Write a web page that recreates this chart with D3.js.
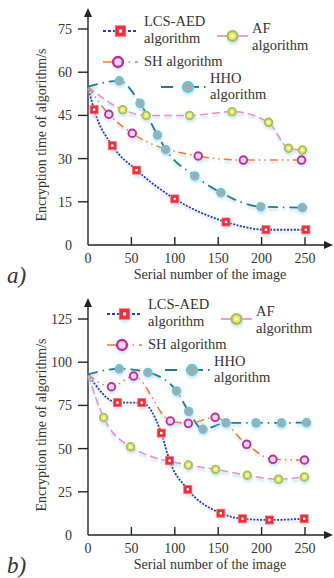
<!DOCTYPE html>
<html><head><meta charset="utf-8">
<script src="https://cdn.jsdelivr.net/npm/d3@7"></script>
<style>body{margin:0;background:#fff}svg{display:block}</style>
</head><body><svg id="c" width="334" height="578" font-family="'Liberation Serif', 'Times New Roman', 'DejaVu Serif', serif"></svg>
<script>
// ---------- data ----------
const xTicks = [0, 50, 100, 150, 200, 250];
const yTicksA = [0, 15, 30, 45, 60, 75];
const yTicksB = [0, 25, 50, 75, 100, 125];
const seriesNames = ["LCS-AED algorithm", "AF algorithm", "SH algorithm", "HHO algorithm"];

// panel a) common start value at x=0
const startA = 55;
const lcsA = [[7,47],[28,34.5],[56,26],[100,16],[159,8],[205,5.3],[251,5.3]];
const afA  = [[40,47],[67,45],[117,45],[166,46.3],[208,42.6],[231,33.6],[247,33]];
const shA  = [[24,45.4],[51,38.8],[127,30.9],[179,29.5],[246,29.5]];
const hhoA = [[36,57],[60,49.2],[80,38.2],[89.5,33.2],[123,24],[153,18.2],[199,13.3],[247,13]];

// panel b)
const startB = 93;
const lcsB = [[34,76.6],[62,76.6],[84.4,59],[94,43],[115,26.4],[153,12.6],[178,9.4],[209,8.7],[249,9.4]];
const afB  = [[18,68],[49,51.1],[115.6,40.5],[147,38],[183.4,34.6],[219.5,32.3],[249.4,33.6]];
const shB  = [[27,85.8],[52.6,92],[94.8,66],[115.6,64.6],[146.5,68.1],[182.8,52.5],[213,43.8],[249.4,43.4]];
const hhoB = [[36,96.2],[69,94.1],[102,83.4],[116,71.5],[132.5,61.2],[159,64.9],[193.5,64.9],[223,64.9],[251.7,65.1]];

// ---------- styles ----------
const styles = [
  {stroke:"#2a3aa6", width:1.8, dash:"2,1.4", legDash:"3,2", marker:"square"},
  {stroke:"#e88cc4", width:1.5, dash:"8,4", legDash:null, marker:"af"},
  {stroke:"#f07a2c", width:1.5, dash:"8,4,1.5,4,1.5,4", legDash:"13,6,1.5,5,1.5,5", marker:"sh"},
  {stroke:"#1f7a8a", width:1.8, dash:"10,5,1.5,5", legDash:"12,16,10,5,1.5,5", marker:"hho"}
];

const svg = d3.select("#c");
const defs = svg.append("defs");
defs.append("filter").attr("id","blur").attr("x","-20%").attr("y","-20%").attr("width","140%").attr("height","140%")
  .append("feGaussianBlur").attr("stdDeviation",1);

function drawMarker(g, type, x, y, big) {
  const s = big ? 1.3 : 1;
  g.append("circle").attr("cx",x+0.5).attr("cy",y+2.5).attr("r",5*s).attr("fill","#bcdaf0").attr("opacity",0.6).attr("filter","url(#blur)");
  if (type === "square") {
    const h = 4*s;
    g.append("rect").attr("x",x-h).attr("y",y-h).attr("width",2*h).attr("height",2*h).attr("fill","#ea2f38").attr("stroke","#f26670").attr("stroke-width",0.8);
    g.append("rect").attr("x",x-1.2*s).attr("y",y-1.2*s).attr("width",2.4*s).attr("height",2.4*s).attr("fill","#fff");
  } else if (type === "af") {
    g.append("circle").attr("cx",x).attr("cy",y).attr("r",3.8*s).attr("fill","#f2e470").attr("stroke","#9cc25c").attr("stroke-width",1.8*s);
    g.append("circle").attr("cx",x).attr("cy",y).attr("r",1.2*s).attr("fill","#fffbe0");
  } else if (type === "sh") {
    g.append("circle").attr("cx",x).attr("cy",y).attr("r",3.8*s).attr("fill","#f2d2ea").attr("stroke","#b8309a").attr("stroke-width",1.9*s);
  } else {
    g.append("circle").attr("cx",x).attr("cy",y).attr("r",3.8*s).attr("fill","#a9a9a9").attr("stroke","#62c6de").attr("stroke-width",1.9*s);
  }
}

function txt(g, x, y, s, size) {
  return g.append("text").attr("x",x).attr("y",y).attr("font-size",size).attr("fill","#333")
    .attr("font-family","'Liberation Serif', 'Times New Roman', serif").text(s);
}

function panel(oy, yTicks, yMax, start, data, label, legOff) {
  const g = svg.append("g");
  const x = d3.scaleLinear().domain([0,250]).range([88,305]);
  const y = d3.scaleLinear().domain([0,yMax]).range([oy+245, oy+29]);
  const line = d3.line().x(d=>x(d[0])).y(d=>y(d[1])).curve(d3.curveMonotoneX);

  const ax = g.append("g").attr("stroke","#222").attr("stroke-width",1.4);
  ax.append("line").attr("x1",88).attr("x2",327).attr("y1",y(0)).attr("y2",y(0));
  ax.append("line").attr("x1",88).attr("x2",88).attr("y1",y(0)).attr("y2",oy+16);
  g.append("path").attr("d",`M333,${y(0)} L324,${y(0)-4} L324,${y(0)+4} Z`).attr("fill","#222");
  g.append("path").attr("d",`M88,${oy+8} L84,${oy+17} L92,${oy+17} Z`).attr("fill","#222");

  xTicks.forEach(t => {
    if (t > 0) ax.append("line").attr("x1",x(t)).attr("x2",x(t)).attr("y1",y(0)).attr("y2",y(0)-8);
    txt(g, x(t), oy+263, t, 14).attr("text-anchor","middle");
  });
  yTicks.forEach(t => {
    if (t > 0) ax.append("line").attr("x1",78).attr("x2",88).attr("y1",y(t)).attr("y2",y(t));
    txt(g, 72, y(t), t, 14).attr("dy","0.35em").attr("text-anchor","end");
  });

  txt(g, 210, oy+279, "Serial number of the image", 14).attr("text-anchor","middle");
  txt(g, 0, 0, "Encryption time of algorithm/s", 14).attr("transform",`translate(46,${oy+135}) rotate(-90)`).attr("text-anchor","middle");
  txt(g, 7, oy+283, label, 23).attr("font-style","italic");

  data.forEach((d,i) => {
    const pts = [[0,start]].concat(d);
    const st = styles[i];
    g.append("path").attr("d",line(pts)).attr("fill","none").attr("stroke","#b4d4ee").attr("stroke-width",2.4)
      .attr("stroke-dasharray",st.dash).attr("opacity",0.6).attr("transform","translate(0.5,2.5)").attr("filter","url(#blur)");
    g.append("path").attr("d",line(pts)).attr("fill","none").attr("stroke",st.stroke).attr("stroke-width",st.width)
      .attr("stroke-dasharray",st.dash);
  });
  data.forEach((d,i) => d.forEach(p => drawMarker(g, styles[i].marker, x(p[0]), y(p[1]), false)));

  const lx = legOff[0], ly = oy + legOff[1];
  const leg = [
    {x1:103,x2:138,y:31,mx:120.5,lines:[["LCS-AED",144,26],["algorithm",144,43]]},
    {x1:217,x2:248,y:36,mx:232.5,lines:[["AF",252,33],["algorithm",252,50]]},
    {x1:103,x2:138,y:62,mx:118,lines:[["SH algorithm",144,66]]},
    {x1:161,x2:206,y:87,mx:188,lines:[["HHO",210,83],["algorithm",210,99]]}
  ];
  leg.forEach((L,i) => {
    const st = styles[i];
    g.append("line").attr("x1",lx+L.x1).attr("x2",lx+L.x2).attr("y1",ly+L.y+2.5).attr("y2",ly+L.y+2.5)
      .attr("stroke","#b4d4ee").attr("stroke-width",2.4).attr("opacity",0.6).attr("filter","url(#blur)")
      .attr("stroke-dasharray",st.legDash);
    g.append("line").attr("x1",lx+L.x1).attr("x2",lx+L.x2).attr("y1",ly+L.y).attr("y2",ly+L.y)
      .attr("stroke",st.stroke).attr("stroke-width",st.width+0.2).attr("stroke-dasharray",st.legDash);
    drawMarker(g, st.marker, lx+L.mx, ly+L.y, true);
    L.lines.forEach(t => txt(g, lx+t[1], ly+t[2], t[0], 14.5));
  });
}

panel(0, yTicksA, 75, startA, [lcsA, afA, shA, hhoA], "a)", [0, 0]);
panel(290, yTicksB, 125, startB, [lcsB, afB, shB, hhoB], "b)", [4, -7]);
</script></body></html>
